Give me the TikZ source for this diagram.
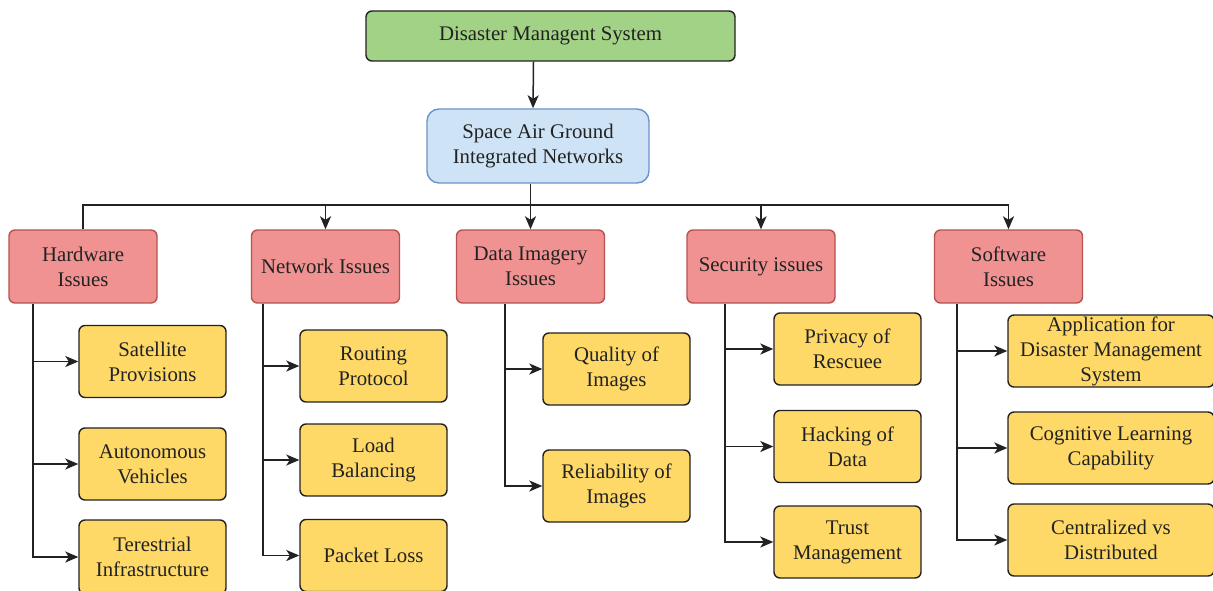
\documentclass[tikz,border=0pt]{standalone}
\usepackage{fontspec}
\setmainfont{Liberation Serif}
\usetikzlibrary{arrows.meta}
\definecolor{gfill}{HTML}{A2D286}
\definecolor{bfill}{HTML}{CEE3F6}
\definecolor{bdraw}{HTML}{6C93C8}
\definecolor{rfill}{HTML}{F09292}
\definecolor{rdraw}{HTML}{B8524F}
\definecolor{yfill}{HTML}{FED968}
\definecolor{ink}{HTML}{222222}
\tikzset{
  base/.style={rounded corners=6pt, line width=1.4pt, align=center, text=ink,
    font=\fontsize{20.8}{25}\selectfont, inner sep=0pt},
  gbox/.style={base, fill=gfill, draw=ink, minimum width=369pt, minimum height=50pt},
  bbox/.style={base, fill=bfill, draw=bdraw, minimum width=222pt, minimum height=74pt, rounded corners=12pt},
  rbox/.style={base, fill=rfill, draw=rdraw, minimum width=148pt, minimum height=73pt},
  ybox/.style={base, fill=yfill, draw=ink, minimum width=147pt, minimum height=72pt},
  conn/.style={line width=1.5pt, draw=ink},
  arr/.style={conn, -{Stealth[length=13pt, width=11pt, inset=3.5pt]}},
}
\begin{document}
\begin{tikzpicture}[x=1pt, y=-1pt]
\useasboundingbox (0,0) rectangle (1213,591);
\coordinate (bus) at (0,205);
% top
\node[gbox] (dms) at (550.5,36) {Disaster Managent System};
\node[bbox] (sag) at (538,146) {Space Air Ground\\Integrated Networks};
% red
\node[rbox] (hw) at (83,266.5) {Hardware\\Issues};
\node[rbox] (nw) at (325.5,266.5) {Network Issues};
\node[rbox] (di) at (530.5,266.5) {Data Imagery\\Issues};
\node[rbox] (sec) at (761,266.5) {Security issues};
\node[rbox] (sw) at (1008.5,266.5) {Software\\Issues};
% yellow: hardware
\node[ybox] (sat) at (152.5,361.5) {Satellite\\Provisions};
\node[ybox] (aut) at (152.5,464) {Autonomous\\Vehicles};
\node[ybox, minimum height=74pt] (ter) at (152.5,557) {Terestrial\\Infrastructure};
% network
\node[ybox] (rout) at (373.5,366) {Routing\\Protocol};
\node[ybox] (load) at (373.5,460) {Load\\Balancing};
\node[ybox] (pkt) at (373.5,555.5) {Packet Loss};
% data imagery
\node[ybox] (qual) at (616.5,369) {Quality of\\Images};
\node[ybox] (rel) at (616.5,486) {Reliability of\\Images};
% security
\node[ybox] (priv) at (847.5,349) {Privacy of\\Rescuee};
\node[ybox] (hack) at (847.5,446.5) {Hacking of\\Data};
\node[ybox] (trust) at (847.5,542) {Trust\\Management};
% software
\node[ybox, minimum width=206pt] (app) at (1111,351) {Application for\\Disaster Management\\System};
\node[ybox, minimum width=206pt] (cog) at (1111,448) {Cognitive Learning\\Capability};
\node[ybox, minimum width=206pt] (cen) at (1111,540) {Centralized vs\\Distributed};
% top connectors
\draw[arr] ([xshift=-17pt]dms.south) -- ([xshift=-5pt]sag.north);
\draw[arr] (sag.south -| di.north) -- (di.north);
\draw[conn] (hw.north) -- (hw.north |- bus) -- (sw.north |- bus);
\draw[arr] (nw.north |- bus) -- (nw.north);
\draw[arr] (sec.north |- bus) -- (sec.north);
\draw[arr] (sw.north |- bus) -- (sw.north);
% column connectors
\foreach \t in {sat,aut,ter} \draw[arr] ([xshift=-50pt]hw.south) |- (\t);
\foreach \t in {rout,load,pkt} \draw[arr] ([xshift=-62.5pt]nw.south) |- (\t);
\foreach \t in {qual,rel} \draw[arr] ([xshift=-25.5pt]di.south) |- (\t);
\foreach \t in {priv,hack,trust} \draw[arr] ([xshift=-36pt]sec.south) |- (\t);
\foreach \t in {app,cog,cen} \draw[arr] ([xshift=-51.5pt]sw.south) |- (\t);
\end{tikzpicture}
\end{document}
